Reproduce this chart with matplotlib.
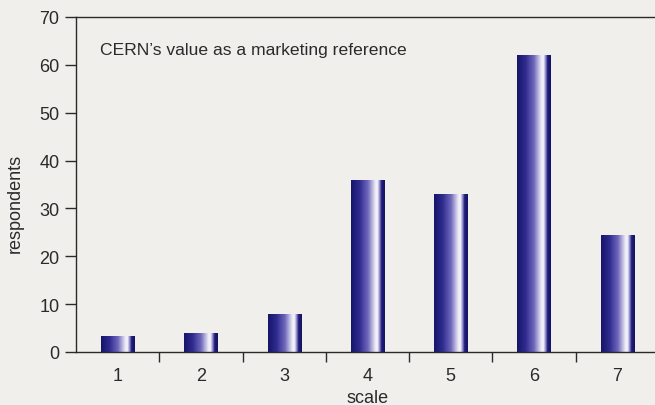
import numpy as np
import matplotlib.pyplot as plt
import matplotlib.colors as mcolors

# data
scale = [1, 2, 3, 4, 5, 6, 7]
respondents = [3.4, 4.0, 8.0, 36.0, 33.0, 62.0, 24.5]
yticks = [0, 10, 20, 30, 40, 50, 60, 70]
title = "CERN\u2019s value as a marketing reference"

plt.rcParams['font.family'] = ['Liberation Sans Narrow', 'Liberation Sans', 'DejaVu Sans']

bg = '#f0efec'
ink = '#2a2a2a'


def bar_cmap():
    stops = [
        (0.0, '#16156a'),
        (0.25, '#2e2b8e'),
        (0.5, '#6f67bb'),
        (0.72, '#ecebf6'),
        (0.78, '#f7f6fb'),
        (0.86, '#7770bd'),
        (0.9, '#1f1d7c'),
        (1.0, '#141360'),
    ]
    return mcolors.LinearSegmentedColormap.from_list('cernbar', stops)


fig = plt.figure(figsize=(6.55, 4.06), dpi=100, facecolor=bg)
ax = fig.add_axes([76 / 655, 53 / 406, 583 / 655, 335 / 406])
ax.set_facecolor(bg)

width = 0.4
bars = ax.bar(scale, respondents, width=width, color='none', edgecolor='none', zorder=2)
cmap = bar_cmap()
grad = np.linspace(0, 1, 256)[None, :]
for rect in bars:
    x0 = rect.get_x()
    h = rect.get_height()
    im = ax.imshow(grad, cmap=cmap, aspect='auto', interpolation='bilinear',
                   extent=[x0, x0 + rect.get_width(), 0, h], zorder=2)
    im.set_clip_path(rect)

ax.set_xlim(0.5, 7.5)
ax.set_ylim(0, 70)

ax.spines['right'].set_visible(False)
for s in ['left', 'bottom', 'top']:
    ax.spines[s].set_color(ink)
    ax.spines[s].set_linewidth(1.0)

ax.set_yticks(yticks)
ax.tick_params(axis='y', direction='out', length=8, width=1.0, color=ink, pad=4,
               labelsize=13, labelcolor=ink)
ax.set_xticks(scale)
ax.set_xticks(np.arange(1.5, 7.5, 1), minor=True)
ax.tick_params(axis='x', which='major', length=0, pad=10.5, labelsize=13, labelcolor=ink)
ax.tick_params(axis='x', which='minor', direction='out', length=7, width=1.0, color=ink)
ax.tick_params(top=False, right=False)

ax.set_xlabel('scale', fontsize=13, color=ink, labelpad=4)
ax.set_ylabel('respondents', fontsize=13, color=ink)
ax.yaxis.set_label_coords(-0.09, 0.445)

ax.text(0.041, 0.925, title, transform=ax.transAxes, ha='left', va='top',
        fontsize=12.6, color=ink)

fig.savefig('out.png', dpi=100, facecolor=bg)
